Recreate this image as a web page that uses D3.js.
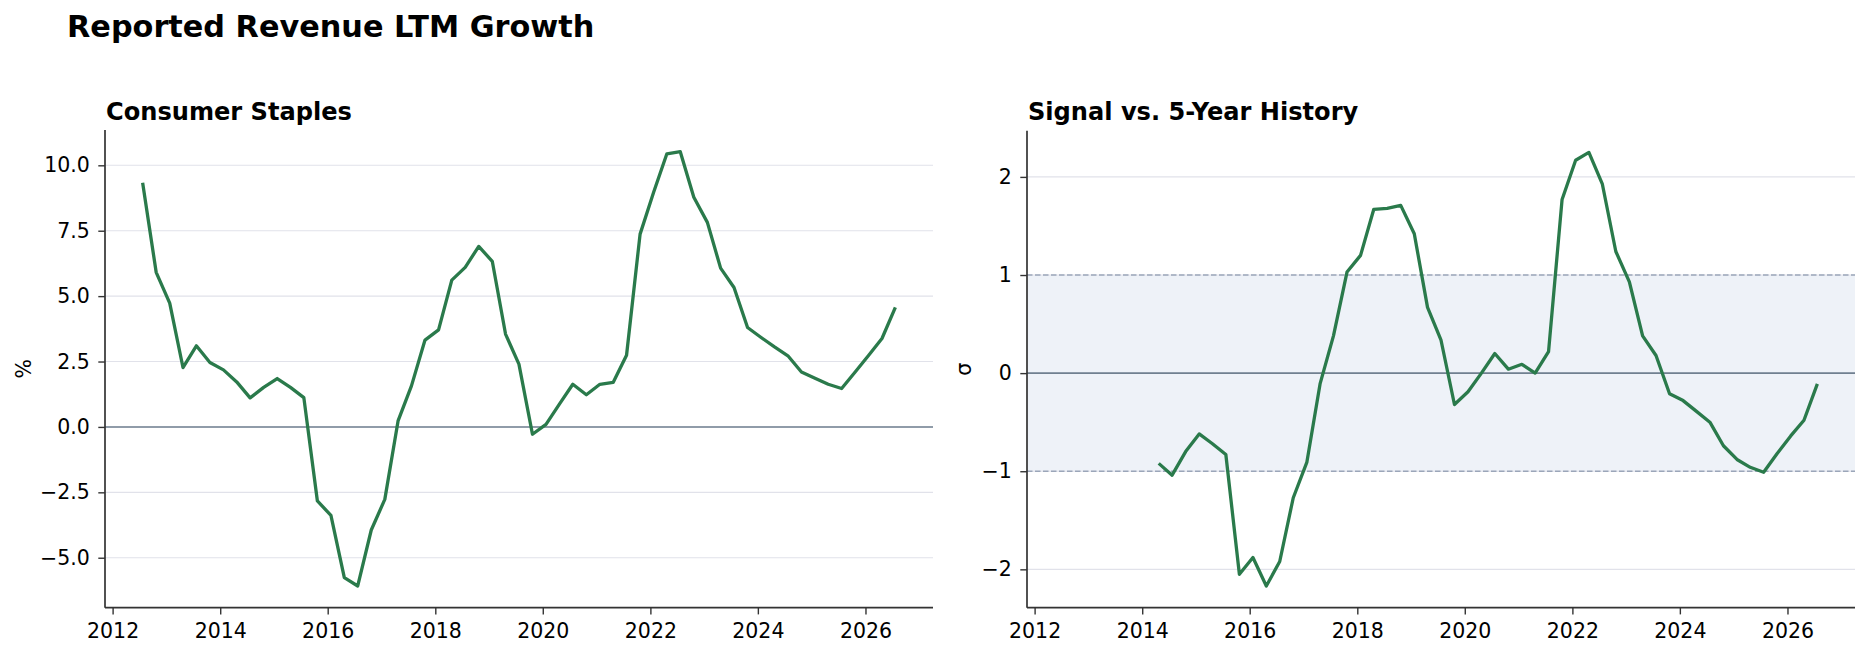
<!DOCTYPE html>
<html>
<head>
<meta charset="utf-8">
<script src="https://cdn.jsdelivr.net/npm/d3@7"></script>
<style>
  html, body { margin: 0; padding: 0; background: #ffffff; }
  svg { display: block; font-family: "DejaVu Sans", sans-serif; }
</style>
</head>
<body>
<svg id="chart" width="1869" height="656"></svg>
<script>
// ---------------- DATA ----------------
const dates = [
  "2012-07-23","2012-10-23",
  "2013-01-23","2013-04-23","2013-07-23","2013-10-23",
  "2014-01-23","2014-04-23","2014-07-23","2014-10-23",
  "2015-01-23","2015-04-23","2015-07-23","2015-10-23",
  "2016-01-23","2016-04-23","2016-07-23","2016-10-23",
  "2017-01-23","2017-04-23","2017-07-23","2017-10-23",
  "2018-01-23","2018-04-23","2018-07-23","2018-10-23",
  "2019-01-23","2019-04-23","2019-07-23","2019-10-23",
  "2020-01-23","2020-04-23","2020-07-23","2020-10-23",
  "2021-01-23","2021-04-23","2021-07-23","2021-10-23",
  "2022-01-23","2022-04-23","2022-07-23","2022-10-23",
  "2023-01-23","2023-04-23","2023-07-23","2023-10-23",
  "2024-01-23","2024-04-23","2024-07-23","2024-10-23",
  "2025-01-23","2025-04-23","2025-07-23","2025-10-23",
  "2026-01-23","2026-04-23","2026-07-23"
];

// Reported revenue LTM growth, % (left panel)
const growth = [
  9.33, 5.91,
  4.73, 2.27, 3.10, 2.46,
  2.18, 1.72, 1.11, 1.51,
  1.85, 1.51, 1.12, -2.83,
  -3.38, -5.76, -6.08, -3.94,
  -2.77, 0.23, 1.57, 3.32,
  3.71, 5.61, 6.10, 6.90,
  6.33, 3.55, 2.40, -0.28,
  0.10, 0.87, 1.63, 1.23,
  1.63, 1.70, 2.74, 7.37,
  8.97, 10.44, 10.52, 8.78,
  7.82, 6.07, 5.33, 3.80,
  3.42, 3.06, 2.72, 2.10,
  1.86, 1.63, 1.47, 2.10,
  2.74, 3.38, 4.57
];

// Signal z-score vs 5-year history, σ (right panel); null = not yet available
const signal = [
  null, null,
  null, null, null, null,
  null, -0.92, -1.04, -0.80,
  -0.62, -0.72, -0.83, -2.05,
  -1.88, -2.17, -1.92, -1.27,
  -0.91, -0.11, 0.38, 1.03,
  1.20, 1.67, 1.68, 1.71,
  1.42, 0.67, 0.34, -0.32,
  -0.19, 0.00, 0.20, 0.04,
  0.09, 0.00, 0.22, 1.77,
  2.17, 2.25, 1.93, 1.24,
  0.93, 0.38, 0.18, -0.21,
  -0.28, -0.39, -0.50, -0.74,
  -0.88, -0.96, -1.01, -0.82,
  -0.64, -0.48, -0.11
];

const leftTicks = [-5, -2.5, 0, 2.5, 5, 7.5, 10];
const rightTicks = [-2, -1, 0, 1, 2];
const xTickYears = [2012, 2014, 2016, 2018, 2020, 2022, 2024, 2026];
const bandLimits = [-1, 1];

const mainTitle = "Reported Revenue LTM Growth";
const leftTitle = "Consumer Staples";
const rightTitle = "Signal vs. 5-Year History";
const leftYLabel = "%";
const rightYLabel = "σ";

// ---------------- STYLE ----------------
const LINE = "#2a7a4b";
const ZERO = "#708090";
const GRID = "#e1e2ea";
const SPINE = "#333333";
const BAND = "#eef2f8";
const DASH = "#9ba6b9";
const TICK_FS = 20.5;

const svg = d3.select("#chart");
const parse = d3.timeParse("%Y-%m-%d");
const X = dates.map(parse);

function padExtent(ext, frac) {
  const span = ext[1] - ext[0];
  return [ext[0] - span * frac, ext[1] + span * frac];
}
function padTime(ext, frac) {
  const span = ext[1] - ext[0];
  return [new Date(+ext[0] - span * frac), new Date(+ext[1] + span * frac)];
}

svg.append("text")
  .attr("x", 67).attr("y", 37)
  .attr("font-size", 30.3).attr("font-weight", "bold").attr("fill", "#000")
  .text(mainTitle);

function panel(opts) {
  const { left, right, top, bottom, values, ticks, fmt, title, ylabel, ylabelX, band } = opts;
  const g = svg.append("g");
  const pts = X.map((d, i) => ({ d, v: values[i] })).filter(p => p.v !== null);

  const x = d3.scaleTime().domain(padTime(d3.extent(X), 0.05)).range([left, right]);
  const y = d3.scaleLinear().domain(padExtent(d3.extent(pts, p => p.v), 0.05)).range([bottom, top]);

  if (band) {
    g.append("rect")
      .attr("x", left).attr("width", right - left)
      .attr("y", y(band[1])).attr("height", y(band[0]) - y(band[1]))
      .attr("fill", BAND);
  }

  g.append("g").selectAll("line").data(ticks).join("line")
    .attr("x1", left).attr("x2", right)
    .attr("y1", d => y(d)).attr("y2", d => y(d))
    .attr("stroke", GRID).attr("stroke-width", 1.1);

  if (band) {
    g.append("g").selectAll("line").data(band).join("line")
      .attr("x1", left).attr("x2", right)
      .attr("y1", d => y(d)).attr("y2", d => y(d))
      .attr("stroke", DASH).attr("stroke-width", 1.3)
      .attr("stroke-dasharray", "5.5,2.5");
  }

  g.append("line")
    .attr("x1", left).attr("x2", right)
    .attr("y1", y(0)).attr("y2", y(0))
    .attr("stroke", ZERO).attr("stroke-width", 1.6);

  g.append("path")
    .datum(pts)
    .attr("fill", "none")
    .attr("stroke", LINE)
    .attr("stroke-width", 3.3)
    .attr("stroke-linejoin", "round")
    .attr("d", d3.line().x(p => x(p.d)).y(p => y(p.v)));

  const xAxis = d3.axisBottom(x)
    .tickValues(xTickYears.map(yr => new Date(yr, 0, 1)))
    .tickFormat(d3.timeFormat("%Y"))
    .tickSize(6.7).tickPadding(9.5);
  const gx = g.append("g").attr("transform", `translate(0,${bottom})`).call(xAxis);

  const yAxis = d3.axisLeft(y).tickValues(ticks).tickFormat(fmt).tickSize(6.7).tickPadding(8.5);
  const gy = g.append("g").attr("transform", `translate(${left},0)`).call(yAxis);

  [gx, gy].forEach(a => {
    a.attr("font-family", null).attr("font-size", null);
    a.select(".domain").attr("stroke", SPINE).attr("stroke-width", 1.7);
    a.selectAll(".tick line").attr("stroke", SPINE).attr("stroke-width", 1.4);
    a.selectAll(".tick text")
      .attr("fill", "#000")
      .attr("font-size", TICK_FS)
      .attr("font-family", "DejaVu Sans, sans-serif");
  });
  gx.select(".domain").attr("d", `M${left},0H${right}`);
  gy.select(".domain").attr("d", `M0,${top}V${bottom}`);

  g.append("text")
    .attr("x", left + 1).attr("y", 120)
    .attr("font-size", 24.1).attr("font-weight", "bold").attr("fill", "#000")
    .text(title);

  g.append("text")
    .attr("transform", `translate(${ylabelX},${(top + bottom) / 2}) rotate(-90)`)
    .attr("text-anchor", "middle")
    .attr("font-size", TICK_FS).attr("fill", "#000")
    .text(ylabel);
}

panel({
  left: 105, right: 933, top: 130, bottom: 607.7,
  values: growth, ticks: leftTicks, fmt: d3.format(".1f"),
  title: leftTitle, ylabel: leftYLabel, ylabelX: 30.7, band: null
});

panel({
  left: 1027, right: 1855, top: 130.7, bottom: 607.7,
  values: signal, ticks: rightTicks, fmt: d3.format("d"),
  title: rightTitle, ylabel: rightYLabel, ylabelX: 970.5, band: bandLimits
});
</script>
</body>
</html>
